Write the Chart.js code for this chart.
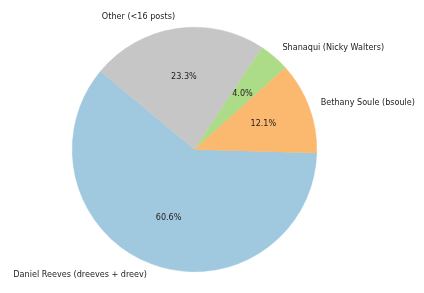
<!DOCTYPE html>
<html>
<head>
<meta charset="utf-8">
<script src="https://cdn.jsdelivr.net/npm/chart.js@4/dist/chart.umd.min.js"></script>
<style>
  html, body { margin: 0; padding: 0; background: #fff; }
  #chart { display: block; }
</style>
</head>
<body>
<canvas id="chart" width="424" height="293"></canvas>
<script>
// Datos del pastel (orden horario, empezando casi a las 3 en punto)
const labels = ['Daniel Reeves (dreeves + dreev)', 'Other (<16 posts)', 'Shanaqui (Nicky Walters)', 'Bethany Soule (bsoule)'];
const percents = [60.6, 23.3, 4.0, 12.1];
const colors = ['#a0c8de', '#c6c6c6', '#acdc88', '#fbb86f'];

const FONT = '8.1px "DejaVu Sans"';

// Etiquetas al estilo matplotlib: nombre a 1.1r, porcentaje a 0.6r
const pieLabels = {
    id: 'pieLabels',
    afterDatasetsDraw(chart) {
        const ctx = chart.ctx;
        const meta = chart.getDatasetMeta(0);
        const total = percents.reduce((a, b) => a + b, 0);
        ctx.save();
        ctx.font = FONT;
        ctx.fillStyle = '#222';
        ctx.textBaseline = 'middle';
        meta.data.forEach((arc, i) => {
            const p = arc.getProps(['x', 'y', 'startAngle', 'endAngle', 'outerRadius'], true);
            const mid = (p.startAngle + p.endAngle) / 2;
            const c = Math.cos(mid), s = Math.sin(mid);
            // nombre
            ctx.textAlign = c > 0 ? 'left' : 'right';
            ctx.fillText(labels[i], p.x + 1.1 * p.outerRadius * c, p.y + 1.1 * p.outerRadius * s);
            // porcentaje
            ctx.textAlign = 'center';
            const pct = (percents[i] / total * 100).toFixed(1) + '%';
            ctx.fillText(pct, p.x + 0.6 * p.outerRadius * c, p.y + 0.6 * p.outerRadius * s);
        });
        ctx.restore();
    }
};

new Chart(document.getElementById('chart'), {
    type: 'pie',
    data: {
        labels: labels,
        datasets: [{
            data: percents,
            backgroundColor: colors,
            borderColor: colors,
            borderWidth: 0.5
        }]
    },
    options: {
        responsive: false,
        animation: false,
        rotation: 91.6,
        layout: {
            padding: { left: 72, right: 107, top: 27, bottom: 21 }
        },
        plugins: {
            legend: { display: false },
            tooltip: { enabled: false }
        }
    },
    plugins: [pieLabels]
});
</script>
</body>
</html>
